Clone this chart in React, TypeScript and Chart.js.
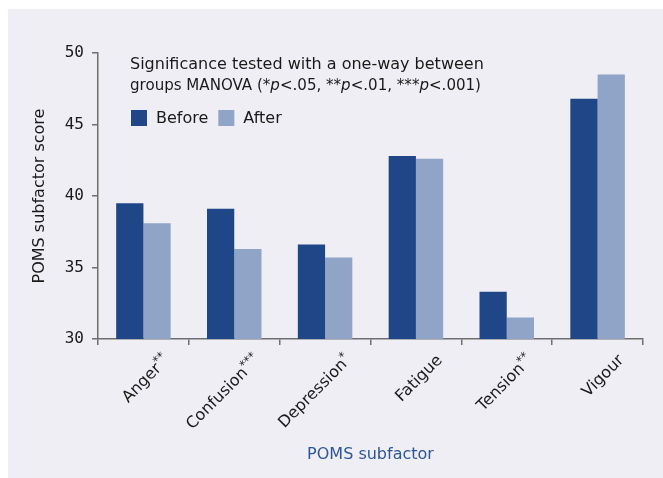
import React, { useEffect, useRef } from "react";
import { Chart, registerables } from "chart.js";

Chart.register(...registerables);

const categories = ["Anger**", "Confusion***", "Depression*", "Fatigue", "Tension**", "Vigour"];
const beforeValues = [39.5, 39.1, 36.6, 42.8, 33.3, 46.8];
const afterValues = [38.1, 36.3, 35.7, 42.6, 31.5, 48.5];
const seriesLabels = ["Before", "After"];
const seriesColors = ["#1f4788", "#8fa4c6"];
const yMin = 30;
const yMax = 50;
const yStep = 5;
const noteLine1 = "Significance tested with a one-way between";
const noteLine2: [string, boolean][] = [
  ["groups MANOVA (*", false],
  ["p", true],
  ["<.05, **", false],
  ["p", true],
  ["<.01, ***", false],
  ["p", true],
  ["<.001)", false],
];
const xTitle = "POMS subfactor";
const yTitle = "POMS subfactor score";

const W = 655;
const H = 469;
const SANS = "'DejaVu Sans', sans-serif";
const AXIS = "#6e6e6e";

const overlayPlugin = {
  id: "overlay",
  afterDraw(chart: any) {
    const ctx = chart.ctx as CanvasRenderingContext2D;
    const area = chart.chartArea;
    const xs = chart.scales.x;
    ctx.save();
    // note text
    ctx.fillStyle = "#1a1a1a";
    ctx.textBaseline = "middle";
    ctx.textAlign = "left";
    ctx.font = `16px ${SANS}`;
    const noteX = 122;
    ctx.fillText(noteLine1, noteX, 56);
    // line 2, compressed to the reference's width
    let total = 0;
    for (const [t, it] of noteLine2) {
      ctx.font = `${it ? "italic " : ""}16px ${SANS}`;
      total += ctx.measureText(t).width;
    }
    const sx = Math.min(1, 351 / total);
    ctx.save();
    ctx.translate(noteX, 77);
    ctx.scale(sx, 1);
    let cx = 0;
    for (const [t, it] of noteLine2) {
      ctx.font = `${it ? "italic " : ""}16px ${SANS}`;
      ctx.fillText(t, cx, 0);
      cx += ctx.measureText(t).width;
    }
    ctx.restore();
    // legend
    ctx.font = `16px ${SANS}`;
    let lx = 123;
    const ly = 109;
    chart.data.datasets.forEach((ds: any) => {
      ctx.fillStyle = ds.backgroundColor;
      ctx.fillRect(lx, ly - 8, 16, 16);
      ctx.fillStyle = "#1a1a1a";
      ctx.fillText(ds.label, lx + 25, ly + 1);
      lx += 25 + ctx.measureText(ds.label).width + 10;
    });
    // x tick labels
    const labels: string[] = chart.data.labels;
    labels.forEach((lab, i) => {
      const m = lab.match(/^(.*?)(\*+)$/);
      const base = m ? m[1] : lab;
      const stars = m ? m[2] : "";
      const x = xs.getPixelForTick(i);
      ctx.save();
      ctx.translate(x + 24, area.bottom + 19);
      ctx.rotate(-Math.PI / 4);
      ctx.textAlign = "right";
      ctx.textBaseline = "middle";
      ctx.fillStyle = "#1a1a1a";
      let end = 0;
      if (stars) {
        ctx.font = `12px ${SANS}`;
        ctx.fillText(stars, 0, -5);
        end = -ctx.measureText(stars).width;
      }
      ctx.font = `16px ${SANS}`;
      ctx.fillText(base, end, 0);
      ctx.restore();
    });
    // axis titles
    ctx.textAlign = "center";
    ctx.textBaseline = "middle";
    ctx.font = `16px ${SANS}`;
    ctx.fillStyle = "#2e5597";
    ctx.fillText(xTitle, (area.left + area.right) / 2, 446);
    ctx.save();
    ctx.translate(32, (area.top + area.bottom) / 2);
    ctx.rotate(-Math.PI / 2);
    ctx.fillStyle = "#1a1a1a";
    ctx.fillText(yTitle, 0, 0);
    ctx.restore();
    ctx.restore();
  },
};

export default function App() {
  const ref = useRef<HTMLCanvasElement | null>(null);
  useEffect(() => {
    if (!ref.current) return;
    const chart = new Chart(ref.current, {
      type: "bar",
      data: {
        labels: categories,
        datasets: [
          { label: seriesLabels[0], data: beforeValues, backgroundColor: seriesColors[0] },
          { label: seriesLabels[1], data: afterValues, backgroundColor: seriesColors[1] },
        ],
      },
      options: {
        animation: false,
        responsive: false,
        layout: { padding: { left: 0, top: 44, right: 20, bottom: 0 } },
        datasets: { bar: { categoryPercentage: 0.6, barPercentage: 1.0, borderWidth: 0 } },
        plugins: { legend: { display: false }, tooltip: { enabled: false }, title: { display: false } },
        scales: {
          x: {
            afterFit: (s: any) => {
              s.height = 139;
            },
            grid: { offset: true, drawOnChartArea: false, drawTicks: true, tickLength: 6, color: AXIS, lineWidth: 1.5 },
            border: { color: AXIS, width: 1.5 },
            ticks: { color: "rgba(0,0,0,0)", autoSkip: false, maxRotation: 0, font: { size: 10 } },
          },
          y: {
            min: yMin,
            max: yMax,
            afterFit: (s: any) => {
              s.width = 90;
            },
            grid: { drawOnChartArea: false, drawTicks: true, tickLength: 6, color: AXIS, lineWidth: 1.5 },
            border: { color: AXIS, width: 1.5 },
            ticks: {
              stepSize: yStep,
              padding: 8,
              color: "#1a1a1a",
              font: { family: "'DejaVu Sans Mono', monospace", size: 16 },
            },
          },
        },
      },
      plugins: [overlayPlugin],
    });
    return () => chart.destroy();
  }, []);
  return (
    <div style={{ position: "fixed", left: 8, top: 9, width: W, height: H, background: "#efeef5" }}>
      <canvas ref={ref} width={W} height={H} style={{ display: "block", width: W, height: H }} />
    </div>
  );
}
